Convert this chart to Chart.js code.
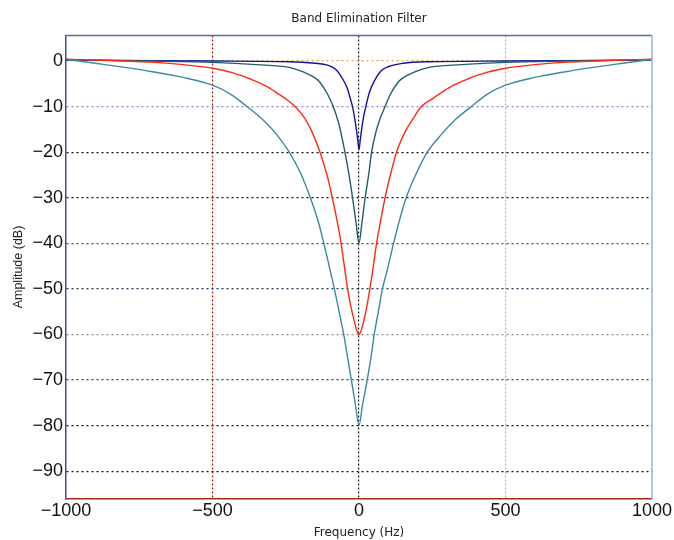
<!DOCTYPE html>
<html>
<head>
<meta charset="utf-8">
<script src="https://cdn.jsdelivr.net/npm/chart.js@4.4.1/dist/chart.umd.min.js"></script>
<style>
  body { margin: 0; background: #fff; }
  #wrap { width: 674px; height: 540px; }
</style>
</head>
<body>
<div id="wrap"><canvas id="myChart" width="674" height="540"></canvas></div>
<script>
// values (Hz, dB)
const freq20 = [-1000, -500, -238, -150, -107, -80, -55, -40, -29, -22, -15, -9, -4, 0, 4, 9, 15, 24, 35, 50, 75, 102, 150, 238, 500, 1000];
const amp20  = [0.2, 0, -0.15, -0.5, -0.9, -1.8, -4, -6, -8.4, -10, -12.5, -15, -17.5, -19.5, -17.5, -15, -12.5, -9.8, -7, -4.7, -2.2, -1.2, -0.5, -0.15, 0, 0.2];

const freq40 = [-1000, -700, -500, -350, -238, -186, -150, -133, -107, -88, -70, -58, -48, -34, -22, -10, 0, 10, 21, 34, 43, 56, 70, 89, 107, 133, 150, 186, 238, 350, 500, 700, 1000];
const amp40  = [0.3, 0, -0.3, -0.8, -1.4, -2.5, -3.7, -4.7, -7.3, -10, -13.5, -16.8, -20, -25, -30, -35.5, -40, -35.5, -30, -24.5, -20, -16, -13, -10, -7.3, -4.7, -3.7, -2.5, -1.4, -0.8, -0.3, 0, 0.3];

const freq60 = [-1000, -850, -695, -600, -500, -430, -369, -320, -280, -250, -218, -185, -160, -133, -110, -91, -75, -61, -49, -39, -28, -18, -8, 0,
                8, 18, 27, 37, 48, 60, 74, 89, 108, 128, 157, 185, 213, 250, 280, 320, 369, 430, 500, 600, 695, 850, 1000];
const amp60  = [0.4, 0.1, -0.3, -0.8, -1.6, -2.6, -4, -5.4, -7, -8.3, -10, -12.6, -15.6, -20, -24.8, -30, -35, -40, -45.5, -50, -53.8, -56.6, -59, -60,
                -59, -56.6, -53.8, -50, -45.5, -40, -35, -30, -24.8, -20, -15.6, -12.6, -10, -8.3, -7, -5.4, -4, -2.6, -1.6, -0.8, -0.3, 0.1, 0.4];

const freq80 = [-1000, -900, -800, -700, -600, -500, -440, -382, -330, -280, -238, -200, -166, -140, -120, -100, -84, -68, -52, -39, -26, -12, 0,
                12, 28, 41, 52, 66, 80, 98, 118, 138, 161, 197, 233, 280, 330, 383, 440, 500, 600, 700, 800, 900, 1000];
const amp80  = [0.4, -0.5, -1.4, -2.4, -3.6, -5.3, -7.2, -10, -12.8, -16.2, -20, -24.5, -30, -35, -40, -45.5, -50, -55, -60, -65, -70, -75.5, -80,
                -75.5, -70, -65, -60, -55, -50, -45.5, -40, -35, -30, -24.5, -20, -16.2, -12.8, -10, -7.2, -5.3, -3.6, -2.4, -1.4, -0.5, 0.4];

const xTicks = [-1000, -500, 0, 500, 1000];
const yTicks = [-90, -80, -70, -60, -50, -40, -30, -20, -10, 0];

function pts(xs, ys) { return xs.map((x, i) => ({ x: x, y: ys[i] })); }

function line(label, xs, ys, color) {
  return {
    label: label,
    data: pts(xs, ys),
    borderColor: color,
    borderWidth: 1.4,
    pointRadius: 0,
    showLine: true,
    cubicInterpolationMode: 'monotone',
    fill: false
  };
}

const minus = v => v < 0 ? '\u2212' + Math.abs(v) : '' + v;

// grid colours per tick, as in the picture
const yGridColor = { '0': '#d9a650', '-10': '#8a8ad0', '-40': '#3a5050', '-50': '#203a5a', '-60': '#8a8a8a', '-70': '#1a5050' };
const xGridColor = { '-500': '#a02010', '0': '#111111', '500': '#c8a080' };

// top and right frame edges
const frame = {
  id: 'frame',
  afterDraw(chart) {
    const a = chart.chartArea, c = chart.ctx;
    c.save();
    c.lineWidth = 1.5;
    c.strokeStyle = '#5a6aa0';
    c.beginPath(); c.moveTo(a.left, a.top); c.lineTo(a.right, a.top); c.stroke();
    c.strokeStyle = '#9ab0d0';
    c.beginPath(); c.moveTo(a.right, a.top); c.lineTo(a.right, a.bottom); c.stroke();
    c.restore();
  }
};

const sans = "'Liberation Sans', Arial, sans-serif";
const wide = "'DejaVu Sans', sans-serif";

new Chart(document.getElementById('myChart').getContext('2d'), {
  type: 'scatter',
  data: {
    datasets: [
      line('-80 dB', freq80, amp80, '#3a8aa0'),
      line('-60 dB', freq60, amp60, '#ff2a14'),
      line('-40 dB', freq40, amp40, '#1f5f6a'),
      line('-20 dB', freq20, amp20, '#14149a')
    ]
  },
  options: {
    responsive: false,
    animation: false,
    layout: { padding: { left: 0, right: 21.5, top: 0, bottom: 0 } },
    plugins: {
      legend: { display: false },
      tooltip: { enabled: false },
      title: {
        display: true,
        fullSize: false,
        text: 'Band Elimination Filter',
        color: '#222',
        font: { family: wide, size: 12, weight: 'normal' },
        padding: { top: 12, bottom: 9.1 }
      }
    },
    scales: {
      x: {
        type: 'linear',
        min: -1000, max: 1000,
        afterBuildTicks: s => { s.ticks = xTicks.map(v => ({ value: v })); },
        afterFit: s => { s.height = 41.5; },
        ticks: {
          color: '#111',
          padding: 2,
          maxRotation: 0,
          font: { family: sans, size: 18 },
          callback: minus
        },
        grid: {
          drawTicks: false,
          lineWidth: 1.2,
          color: c => xGridColor[String(c.tick.value)] || 'rgba(0,0,0,0)'
        },
        border: { color: '#a02a10', width: 1.5, dash: [2, 2] },
        title: {
          display: true,
          text: 'Frequency (Hz)',
          color: '#222',
          font: { family: wide, size: 12 },
          padding: { top: 0, bottom: 0 }
        }
      },
      y: {
        min: -96, max: 5.6,
        afterBuildTicks: s => { s.ticks = yTicks.map(v => ({ value: v })); },
        afterFit: s => { s.width = 66; },
        ticks: {
          color: '#111',
          padding: 3,
          font: { family: sans, size: 18 },
          callback: minus
        },
        grid: {
          drawTicks: false,
          lineWidth: 1.2,
          color: c => yGridColor[String(c.tick.value)] || '#111111'
        },
        border: { color: '#3c4c8c', width: 1.5, dash: [2, 3] },
        title: {
          display: true,
          text: 'Amplitude (dB)',
          color: '#222',
          font: { family: sans, size: 12.5 },
          padding: { top: 11, bottom: 0 }
        }
      }
    }
  },
  plugins: [frame]
});
</script>
</body>
</html>
